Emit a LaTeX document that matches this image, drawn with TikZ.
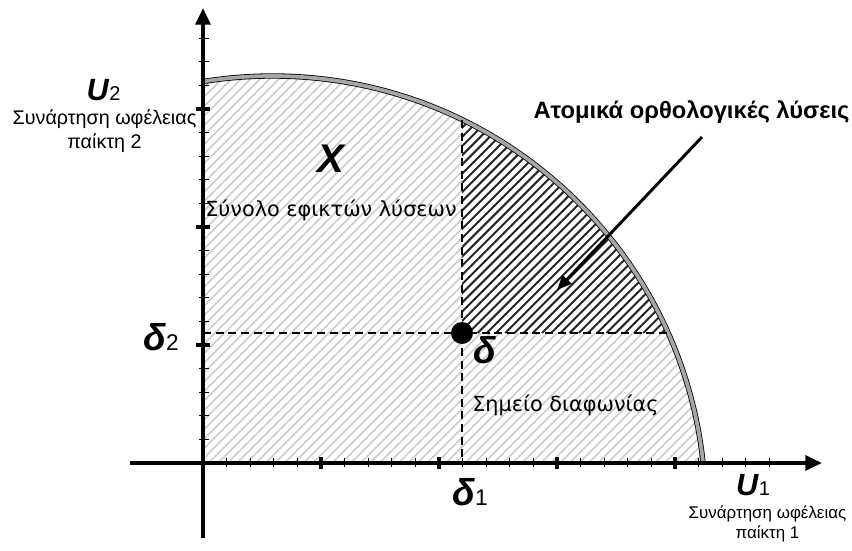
\documentclass[tikz,border=0pt]{standalone}
\usepackage{fontspec}
\setmainfont{Liberation Sans}
\newfontfamily\dvfont{DejaVu Sans}
\usetikzlibrary{arrows.meta}
\begin{document}
\begin{tikzpicture}[x=0.75pt,y=-0.75pt,
  txt/.style={inner sep=0pt, anchor=base, font=\fontsize{14.8}{17}\selectfont},
  intxt/.style={inner sep=0pt, anchor=base, font=\dvfont\fontsize{15.6}{18}\selectfont},
  bigsym/.style={inner sep=0pt, anchor=base, font=\fontsize{23}{25}\selectfont\bfseries\itshape},
  deltasym/.style={inner sep=0pt, anchor=base, font=\fontsize{28}{30}\selectfont\bfseries\itshape},
  axisline/.style={line width=3pt, -{Triangle[length=12.5pt,width=11pt]}},
  minortick/.style={line width=0.9pt},
  majortick/.style={line width=2.6pt},
  guide/.style={line width=1.4pt, dash pattern=on 6pt off 3.5pt},
  lighthatch/.style={line width=1.3pt, black!20},
  darkhatch/.style={line width=1.5pt, black!85}]
\useasboundingbox (0,0) rectangle (852,550);
\coordinate (O) at (203,463);
\coordinate (C) at (272.5,509);
\coordinate (D) at (462,333);
% feasible region, light hatching
\begin{scope}
  \clip (203,0) rectangle (852,463);
  \clip (C) circle (433);
  \foreach \k in {0,...,100} \draw[lighthatch] ({-200+\k*9.5},463) -- ++(470,-470);
\end{scope}
% individually rational region, dark hatching
\begin{scope}
  \clip (462,0) rectangle (852,333);
  \clip (C) circle (433);
  \fill[white] (462,0) rectangle (852,333);
  \foreach \k in {0,...,80} \draw[darkhatch] ({-10+\k*9.2},333) -- ++(300,-300);
\end{scope}
% frontier
\begin{scope}
  \clip (203,0) rectangle (852,463);
  \draw[line width=0.6pt, double=black!35, double distance=2.8pt] (C) circle (433);
\end{scope}
% guides
\coordinate (Dx) at (462,463);
\coordinate (Dtop) at (462,120);
\coordinate (Dy) at (203,333);
\coordinate (Dright) at (668,333);
\draw[guide] (Dy) -- (Dright);
\draw[guide] (Dtop) -- (Dx);
% axes
\coordinate (Xs) at (130,463);
\coordinate (Xe) at (822,463);
\coordinate (Ys) at (203,538);
\coordinate (Ye) at (203,8);
\draw[axisline] (Xs) -- (Xe);
\draw[axisline] (Ys) -- (Ye);
\foreach \k in {1,...,24} \draw[minortick] ({203+\k*23.6},458) -- ({203+\k*23.6},467);
\foreach \k in {5,10,15,20} \draw[majortick] ({203+\k*23.6},457) -- ({203+\k*23.6},469);
\foreach \k in {1,...,18} \draw[minortick] (199,{463-\k*23.6}) -- (209,{463-\k*23.6});
\foreach \k in {5,10,15} \draw[majortick] (196,{463-\k*23.6}) -- (210,{463-\k*23.6});
% disagreement point
\fill (D) circle (11);
% arrow
\coordinate (As) at (702,137);
\coordinate (Ae) at (557,290);
\draw[line width=2.2pt, -{Triangle[length=11pt,width=9pt]}] (As) -- (Ae);
% labels
\node[bigsym] (U2) at (103.5,100) {U\textup{\mdseries\fontsize{15}{16}\selectfont 2}};
\node[txt, align=center] (U2t) at (104.5,148) {Συνάρτηση ωφέλειας\\[1pt]παίκτη 2};
\node[bigsym] (U1) at (753,495) {U\textup{\mdseries\fontsize{15}{16}\selectfont 1}};
\node[txt, align=center, font=\fontsize{12.7}{15}\selectfont] (U1t) at (767.5,538) {Συνάρτηση ωφέλειας\\[0pt]παίκτη 1};
\node[bigsym, font=\fontsize{30}{32}\selectfont\bfseries\itshape] (X) at (331,172) {X};
\node[intxt] (feas) at (331,216.7) {Σύνολο εφικτών λύσεων};
\node[intxt, anchor=base west] (dis) at (472,411.7) {Σημείο διαφωνίας};
\node[txt, font=\fontsize{17.8}{20}\selectfont\bfseries] (ir) at (691.5,118) {Ατομικά ορθολογικές λύσεις};
\node[deltasym] (d) at (485,363) {δ};
\node[deltasym] (d2) at (161,350) {δ\textup{\mdseries\fontsize{17}{18}\selectfont 2}};
\node[deltasym] (d1) at (470,505) {δ\textup{\mdseries\fontsize{17}{18}\selectfont 1}};
\end{tikzpicture}
\end{document}
